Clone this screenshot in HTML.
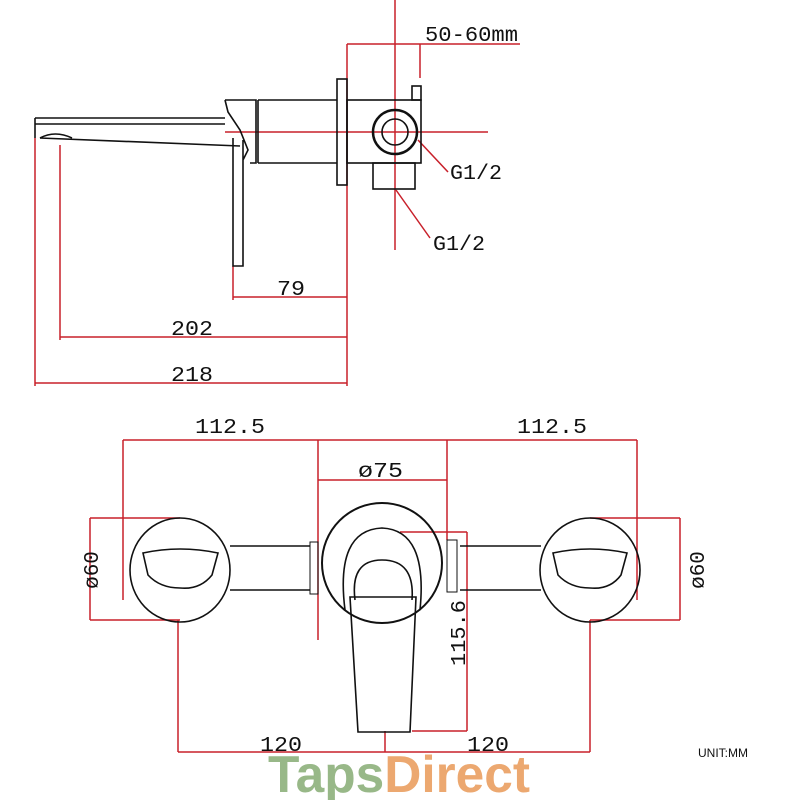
<!DOCTYPE html>
<html><head><meta charset="utf-8"><style>body{margin:0;background:#fff}svg{display:block}</style></head><body>
<svg width="800" height="800" viewBox="0 0 800 800" xmlns="http://www.w3.org/2000/svg" font-family="Liberation Mono, monospace">
<g stroke="#c8202a" stroke-width="1.5" fill="none">
<line x1="395" y1="0" x2="395" y2="250"/>
<line x1="347" y1="44" x2="520" y2="44"/>
<line x1="420" y1="44" x2="420" y2="78"/>
<line x1="347" y1="44" x2="347" y2="386"/>
<line x1="225" y1="132" x2="488" y2="132"/>
<line x1="418" y1="140" x2="448" y2="172"/>
<line x1="396" y1="190" x2="430" y2="238"/>
<line x1="233" y1="266" x2="233" y2="300"/>
<line x1="233" y1="297" x2="347" y2="297"/>
<line x1="60" y1="145" x2="60" y2="340"/>
<line x1="60" y1="337" x2="347" y2="337"/>
<line x1="35" y1="138" x2="35" y2="386"/>
<line x1="35" y1="383" x2="347" y2="383"/>
<line x1="123" y1="440" x2="637" y2="440"/>
<line x1="123" y1="440" x2="123" y2="600"/>
<line x1="637" y1="440" x2="637" y2="600"/>
<line x1="318" y1="440" x2="318" y2="640"/>
<line x1="447" y1="440" x2="447" y2="540"/>
<line x1="318" y1="480" x2="447" y2="480"/>
<line x1="90" y1="518" x2="180" y2="518"/>
<line x1="90" y1="620" x2="180" y2="620"/>
<line x1="90" y1="518" x2="90" y2="620"/>
<line x1="590" y1="518" x2="680" y2="518"/>
<line x1="590" y1="620" x2="680" y2="620"/>
<line x1="680" y1="518" x2="680" y2="620"/>
<line x1="400" y1="532" x2="467" y2="532"/>
<line x1="412" y1="731" x2="467" y2="731"/>
<line x1="467" y1="532" x2="467" y2="731"/>
<line x1="178" y1="620" x2="178" y2="752"/>
<line x1="590" y1="620" x2="590" y2="752"/>
<line x1="385" y1="731" x2="385" y2="752"/>
<line x1="178" y1="752" x2="590" y2="752"/>
</g>
<g stroke="#111" stroke-width="1.6" fill="none">
<rect x="337" y="79" width="10" height="106"/>
<rect x="347" y="100" width="74" height="63"/>
<rect x="412" y="86" width="9" height="14"/>
<circle cx="395" cy="132" r="22" stroke-width="2.5"/>
<circle cx="395" cy="132" r="13"/>
<rect x="373" y="163" width="42" height="26"/>
<line x1="258" y1="100" x2="337" y2="100"/>
<line x1="258" y1="163" x2="337" y2="163"/>
<line x1="258" y1="100" x2="258" y2="163"/>
<line x1="35" y1="118" x2="225" y2="118"/>
<line x1="35" y1="124" x2="225" y2="124"/>
<line x1="35" y1="118" x2="35" y2="138"/>
<line x1="40" y1="138" x2="240" y2="146"/>
<path d="M225 100 L256 100 L256 163 L250 163 M225 100 L228 112 L240 130 L248 150 L243 160 M233 138 L233 266 L243 266 L243 140"/>
<path d="M40 138 Q55 130 72 138"/>
<ellipse cx="180" cy="570" rx="50" ry="52"/>
<ellipse cx="590" cy="570" rx="50" ry="52"/>
<path d="M143 553 Q180 545 218 553 L212 575 Q200 590 180 588 Q160 588 148 575 Z"/>
<path d="M553 553 Q590 545 627 553 L621 575 Q610 590 590 588 Q570 588 558 575 Z"/>
<line x1="230" y1="546" x2="310" y2="546"/>
<line x1="230" y1="590" x2="310" y2="590"/>
<line x1="460" y1="546" x2="541" y2="546"/>
<line x1="460" y1="590" x2="541" y2="590"/>
<rect x="310" y="542" width="8" height="52" stroke-width="1"/>
<rect x="447" y="540" width="10" height="52" stroke-width="1"/>
<ellipse cx="382" cy="563" rx="60" ry="60" stroke-width="2"/>
<path d="M345 610 Q335 530 382 528 Q428 530 420 610"/>
<path d="M355 600 Q350 560 382 560 Q415 560 412 600"/>
<path d="M350 597 L416 597 L410 732 L358 732 Z"/>
</g>
<g fill="#111" font-size="21">
<text x="425" y="41" textLength="93" lengthAdjust="spacingAndGlyphs">50-60mm</text>
<text x="450" y="179" textLength="52" lengthAdjust="spacingAndGlyphs">G1/2</text>
<text x="433" y="250" textLength="52" lengthAdjust="spacingAndGlyphs">G1/2</text>
<text x="277" y="295" textLength="28" lengthAdjust="spacingAndGlyphs">79</text>
<text x="171" y="335" textLength="42" lengthAdjust="spacingAndGlyphs">202</text>
<text x="171" y="381" textLength="42" lengthAdjust="spacingAndGlyphs">218</text>
<text x="195" y="433" textLength="70" lengthAdjust="spacingAndGlyphs">112.5</text>
<text x="517" y="433" textLength="70" lengthAdjust="spacingAndGlyphs">112.5</text>
<text x="358" y="477" textLength="45" lengthAdjust="spacingAndGlyphs">ø75</text>
<text x="260" y="751" textLength="42" lengthAdjust="spacingAndGlyphs">120</text>
<text x="467" y="751" textLength="42" lengthAdjust="spacingAndGlyphs">120</text>
<text transform="translate(98,570) rotate(-90)" text-anchor="middle">ø60</text>
<text transform="translate(704,570) rotate(-90)" text-anchor="middle">ø60</text>
<text transform="translate(465,666) rotate(-90)" textLength="66" lengthAdjust="spacingAndGlyphs">115.6</text>
</g>
<text x="698" y="757" font-family="Liberation Sans, sans-serif" font-size="12" fill="#111">UNIT:MM</text>
<text x="268" y="792" font-family="Liberation Sans, sans-serif" font-size="52" font-weight="bold" textLength="262" lengthAdjust="spacingAndGlyphs"><tspan fill="#98b888">Taps</tspan><tspan fill="#eca870">Direct</tspan></text>
</svg>
</body></html>
